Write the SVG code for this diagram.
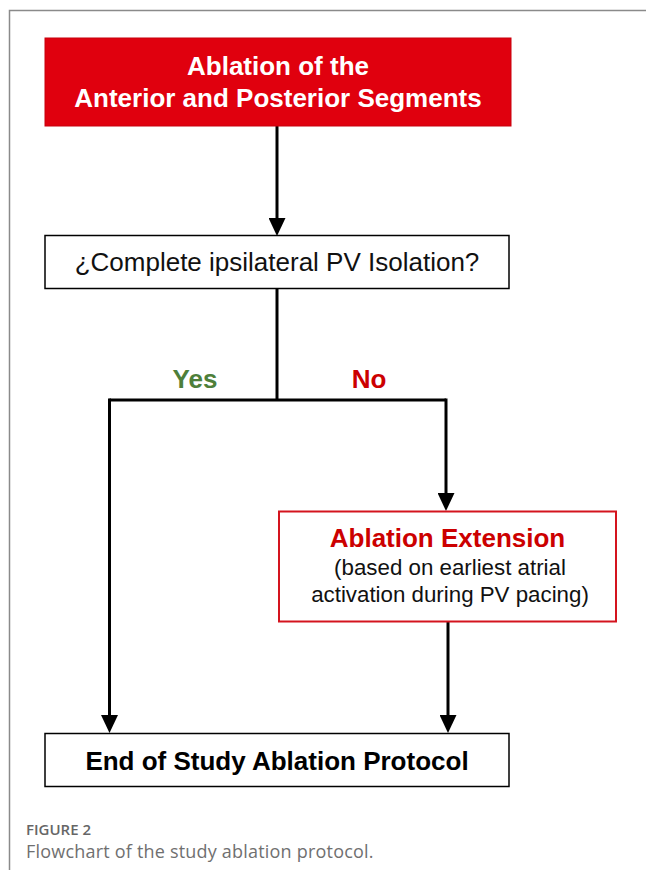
<svg xmlns="http://www.w3.org/2000/svg" width="646" height="870" viewBox="0 0 646 870">
<style>
.conn{fill:none;stroke:#000;stroke-width:3;}
.t{font-family:"Liberation Sans",Arial,Helvetica,sans-serif;text-anchor:middle;}
.b{font-weight:bold;}
.cap{font-family:"Open Sans","Noto Sans",sans-serif;}
</style>
<defs>
<marker id="ah" viewBox="0 0 18 17" refX="0" refY="8.5" markerWidth="18" markerHeight="17" markerUnits="userSpaceOnUse" orient="auto">
<path d="M0,0 L18,8.5 L0,17 z" fill="#000"/>
</marker>
</defs>
<rect width="646" height="870" fill="#fff"/>
<path d="M9.5,870 V10.5 H646" fill="none" stroke="#8a8a8a" stroke-width="1.5"/>

<g id="connectors">
<path class="conn" d="M277,126 V218" marker-end="url(#ah)"/>
<path class="conn" d="M277,289 V400"/>
<path class="conn" d="M109.5,400 H446"/>
<path class="conn" d="M109.5,398.5 V715" marker-end="url(#ah)"/>
<path class="conn" d="M446,398.5 V493" marker-end="url(#ah)"/>
<path class="conn" d="M448,622 V715" marker-end="url(#ah)"/>
<text class="t b" x="195" y="388" font-size="26" fill="#4e7f3a">Yes</text>
<text class="t b" x="369" y="388" font-size="26" fill="#cc0000">No</text>
</g>

<g id="node-ablation">
<rect x="45" y="38" width="466" height="88" fill="#e0000e" stroke="#c8000c" stroke-width="1"/>
<text class="t b" x="278" y="75" font-size="26" fill="#fff">Ablation of the</text>
<text class="t b" x="278" y="107" font-size="26" fill="#fff">Anterior and Posterior Segments</text>
</g>

<g id="node-question">
<rect x="45" y="235.5" width="464" height="53" fill="#fff" stroke="#000" stroke-width="1.5"/>
<text class="t" x="277" y="271" font-size="26" fill="#111">¿Complete ipsilateral PV Isolation?</text>
</g>

<g id="node-extension">
<rect x="279" y="511.5" width="337" height="110" fill="#fff" stroke="#d4141e" stroke-width="2"/>
<text class="t b" x="447.5" y="547" font-size="26" fill="#cc0000">Ablation Extension</text>
<text class="t" x="450" y="575" font-size="22.3" fill="#111">(based on earliest atrial</text>
<text class="t" x="450" y="602" font-size="22.3" fill="#111">activation during PV pacing)</text>
</g>

<g id="node-end">
<rect x="45" y="733.5" width="464" height="53" fill="#fff" stroke="#000" stroke-width="1.5"/>
<text class="t b" x="277" y="770" font-size="26" fill="#000">End of Study Ablation Protocol</text>
</g>

<text class="cap" x="26" y="835" font-size="15" font-weight="600" fill="#666">FIGURE 2</text>
<text class="cap" x="26" y="858" font-size="18" letter-spacing="0.2" fill="#707070">Flowchart of the study ablation protocol.</text>
</svg>
